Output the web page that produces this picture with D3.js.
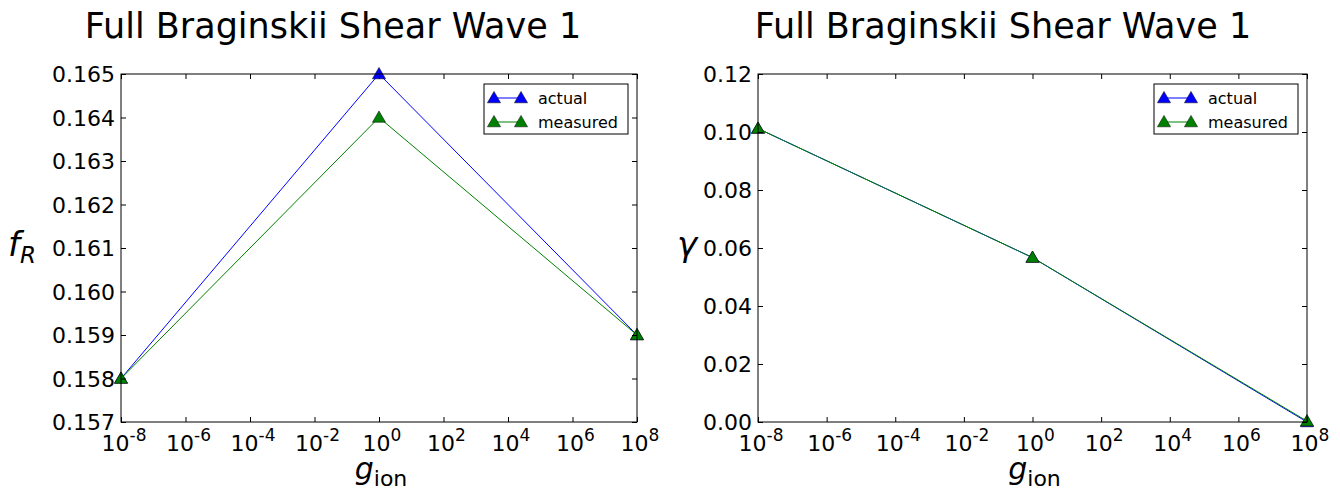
<!DOCTYPE html>
<html>
<head>
<meta charset="utf-8">
<script src="https://cdn.jsdelivr.net/npm/d3@7"></script>
<style>
body { margin: 0; background: #fff; }
text { font-family: "DejaVu Sans", sans-serif; }
</style>
</head>
<body>
<script>
// data
var gion = [1e-8, 1, 1e8]
var freqActual = [0.158, 0.165, 0.159]
var freqMeasured = [0.158, 0.164, 0.159]
var gammaActual = [0.1012, 0.0567, 0.0]
var gammaMeasured = [0.1012, 0.0567, 0.0003]
var xTicks = [1e-8, 1e-6, 1e-4, 1e-2, 1, 1e2, 1e4, 1e6, 1e8]
var xTickExp = ["-8", "-6", "-4", "-2", "0", "2", "4", "6", "8"]
var freqTicks = [0.157, 0.158, 0.159, 0.160, 0.161, 0.162, 0.163, 0.164, 0.165]
var gammaTicks = [0.00, 0.02, 0.04, 0.06, 0.08, 0.10, 0.12]
var seriesNames = ["actual", "measured"]
var colors = ["#0000ff", "#008000"]

var svg = d3.select("body").append("svg")
  .attr("width", 1340)
  .attr("height", 493)

var tri = d3.symbol().type(d3.symbolTriangle).size(75)
var TOP = 74, BOT = 422

function panel(opt) {
  var x = d3.scaleLog().domain([1e-8, 1e8]).range([opt.left, opt.right])
  var y = d3.scaleLinear().domain(opt.ydom).range([BOT, TOP])
  var g = svg.append("g")

  g.append("text")
    .attr("x", opt.titleX)
    .attr("y", 38)
    .attr("text-anchor", "middle")
    .attr("font-size", "35px")
    .text("Full Braginskii Shear Wave 1")

  // series
  var sets = [opt.a, opt.m]
  sets.forEach(function(vals, k) {
    var pts = gion.map(function(d, i) { return [x(d), y(vals[i])] })
    g.append("path")
      .attr("d", d3.line()(pts))
      .attr("fill", "none")
      .attr("stroke", colors[k])
      .attr("stroke-width", 1)
    g.selectAll(null).data(pts).enter().append("path")
      .attr("d", tri)
      .attr("transform", function(d) { return "translate(" + d[0] + "," + (d[1] + 1) + ")" })
      .attr("fill", colors[k])
      .attr("stroke", "#000")
      .attr("stroke-width", 0.5)
  })

  g.append("rect")
    .attr("x", opt.left).attr("y", TOP)
    .attr("width", opt.right - opt.left).attr("height", BOT - TOP)
    .attr("fill", "none").attr("stroke", "#000").attr("stroke-width", 1)

  var xb = d3.axisBottom(x).tickValues(xTicks).tickSize(-5).tickFormat("")
  var xt = d3.axisTop(x).tickValues(xTicks).tickSize(-5).tickFormat("")
  var yl = d3.axisLeft(y).tickValues(opt.yticks).tickSize(-5).tickFormat("")
  var yr = d3.axisRight(y).tickValues(opt.yticks).tickSize(-5).tickFormat("")
  g.append("g").attr("transform", "translate(0," + BOT + ")").call(xb)
  g.append("g").attr("transform", "translate(0," + TOP + ")").call(xt)
  g.append("g").attr("transform", "translate(" + opt.left + ",0)").call(yl)
  g.append("g").attr("transform", "translate(" + opt.right + ",0)").call(yr)
  g.selectAll(".domain").remove()
  g.selectAll(".tick line").attr("stroke", "#000")

  // x tick labels 10^n
  xTicks.forEach(function(t, i) {
    var lab = g.append("text")
      .attr("x", x(t) + 3)
      .attr("y", 451)
      .attr("text-anchor", "middle")
      .attr("font-size", "22px")
    lab.append("tspan").text("10")
    lab.append("tspan").attr("dy", -10).attr("font-size", "17px").text(xTickExp[i])
  })

  // y tick labels
  g.selectAll(null).data(opt.yticks).enter().append("text")
    .attr("x", opt.left - 6)
    .attr("y", function(d) { return y(d) + 8 })
    .attr("text-anchor", "end")
    .attr("font-size", "22px")
    .text(opt.fmt)

  // x label
  var xl = g.append("text")
    .attr("x", (opt.left + opt.right) / 2 + 2)
    .attr("y", 479)
    .attr("text-anchor", "middle")
    .attr("font-family", "'DejaVu Serif', serif")
    .attr("font-size", "30px")
  xl.append("tspan").attr("font-style", "italic").text("g")
  xl.append("tspan").attr("dy", 7).attr("font-size", "22px").text("ion")

  // y label
  var yl2 = g.append("text")
    .attr("x", opt.ylx)
    .attr("y", 256)
    .attr("font-family", "'DejaVu Serif', serif")
    .attr("font-style", "italic")
    .attr("font-size", "34px")
  yl2.append("tspan").text(opt.ylab)
  if (opt.ysub) yl2.append("tspan").attr("dy", 7).attr("font-size", "23px").text(opt.ysub)

  // legend
  var lx = opt.right - 153, ly = 84
  g.append("rect")
    .attr("x", lx).attr("y", ly).attr("width", 144).attr("height", 50)
    .attr("fill", "#fff").attr("stroke", "#000").attr("stroke-width", 1)
  seriesNames.forEach(function(name, k) {
    var yy = ly + 14 + k * 24
    g.append("line")
      .attr("x1", lx + 10).attr("x2", lx + 37)
      .attr("y1", yy).attr("y2", yy)
      .attr("stroke", colors[k])
    ;[lx + 10, lx + 37].forEach(function(px) {
      g.append("path").attr("d", tri)
        .attr("transform", "translate(" + px + "," + (yy + 1) + ")")
        .attr("fill", colors[k]).attr("stroke", "#000").attr("stroke-width", 0.5)
    })
    g.append("text")
      .attr("x", lx + 54).attr("y", yy + 6)
      .attr("font-size", "16px")
      .text(name)
  })
}

panel({ left: 121, right: 637, ydom: [0.157, 0.165], yticks: freqTicks, fmt: d3.format(".3f"),
        a: freqActual, m: freqMeasured, ylab: "f", ysub: "R", ylx: 8, titleX: 333 })
panel({ left: 758, right: 1307, ydom: [0, 0.12], yticks: gammaTicks, fmt: d3.format(".2f"),
        a: gammaActual, m: gammaMeasured, ylab: "γ", ysub: null, ylx: 677, titleX: 1003 })
</script>
</body>
</html>
